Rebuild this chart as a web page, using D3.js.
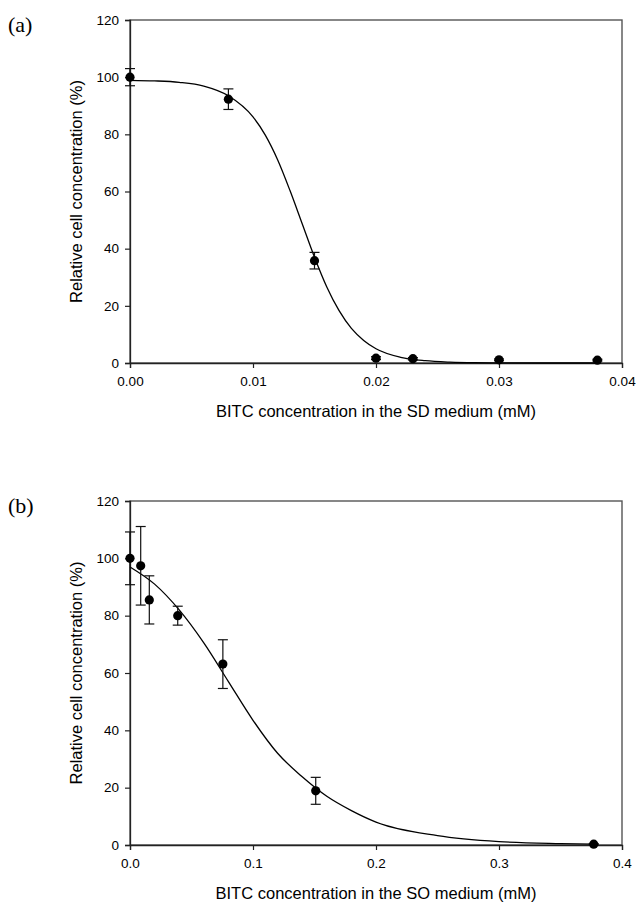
<!DOCTYPE html>
<html>
<head>
<meta charset="utf-8">
<script src="https://cdn.jsdelivr.net/npm/d3@7"></script>
<style>
  body { margin: 0; background: #fff; }
  svg { display: block; }
  .tick text { font-family: Arial, "Liberation Sans", sans-serif; font-size: 13.5px; fill: #000; }
</style>
</head>
<body>
<svg id="chart" width="636" height="902"></svg>
<script>
// panel (a): BITC in SD medium
const sdConc = [0, 0.008, 0.015, 0.020, 0.023, 0.030, 0.038];
const sdMean = [100, 92.3, 35.8, 1.7, 1.5, 1.1, 1.0];
const sdErr = [3.0, 3.6, 2.9, 0.5, 0.4, 0.3, 0.3];
const sdFitX = [0, 0.002, 0.004, 0.006, 0.008, 0.010, 0.011, 0.012, 0.013, 0.014, 0.015, 0.016, 0.017, 0.018, 0.019, 0.020, 0.022, 0.024, 0.026, 0.028, 0.030, 0.034, 0.038];
const sdFitY = [98.9, 98.7, 98.2, 96.9, 93.5, 86.1, 79.7, 71.1, 60.4, 48.7, 37.0, 26.6, 18.3, 12.1, 7.9, 5.0, 2.0, 0.8, 0.3, 0.1, 0.05, 0, 0];
const sdTicks = [0, 0.01, 0.02, 0.03, 0.04];

// panel (b): BITC in SO medium
const soConc = [0, 0.0087, 0.0157, 0.0388, 0.0755, 0.151, 0.377];
const soMean = [100, 97.4, 85.5, 80, 63.1, 18.9, 0.3];
const soErr = [9.2, 13.7, 8.4, 3.3, 8.5, 4.7, 0.2];
const soFitX = [0, 0.02, 0.04, 0.06, 0.08, 0.10, 0.12, 0.14, 0.16, 0.18, 0.20, 0.25, 0.30, 0.35, 0.377];
const soFitY = [97, 91, 82, 70.5, 57, 43.5, 32, 23.8, 17, 12, 8, 3.3, 1.2, 0.5, 0.3];
const soTicks = [0, 0.1, 0.2, 0.3, 0.4];

const yTicks = [0, 20, 40, 60, 80, 100, 120];

const svg = d3.select("#chart");

function drawPanel(p) {
  const x = d3.scaleLinear().domain([0, p.xMax]).range([130, 622]);
  const y = d3.scaleLinear().domain([0, 120]).range([p.bottom, p.top]);
  const g = svg.append("g");

  // frame
  g.append("rect")
    .attr("x", 130).attr("y", p.top)
    .attr("width", 492).attr("height", p.bottom - p.top)
    .attr("fill", "none").attr("stroke", "#555").attr("stroke-width", 1.4);

  const xAxis = g.append("g")
    .attr("transform", "translate(0," + p.bottom + ")")
    .call(d3.axisBottom(x).tickValues(p.ticks).tickFormat(d3.format(p.fmt)).tickSize(5).tickPadding(8));
  const yAxis = g.append("g")
    .attr("transform", "translate(130,0)")
    .call(d3.axisLeft(y).tickValues(yTicks).tickSize(5).tickPadding(6));
  [xAxis, yAxis].forEach(function (a) {
    a.select(".domain").attr("stroke", "#222").attr("stroke-width", 1.3);
    a.selectAll(".tick line").attr("stroke", "#222").attr("stroke-width", 1.2);
  });

  // fitted curve
  const line = d3.line()
    .x(function (d, i) { return x(p.fitX[i]); })
    .y(function (d) { return y(d); })
    .curve(d3.curveMonotoneX);
  g.append("path")
    .datum(p.fitY)
    .attr("d", line)
    .attr("fill", "none").attr("stroke", "#000").attr("stroke-width", 1.3);

  // error bars
  const pts = p.conc.map(function (c, i) {
    return { x: c, m: p.mean[i], e: p.err[i] };
  });
  const eb = g.selectAll(".err").data(pts).enter().append("g")
    .attr("stroke", "#111").attr("stroke-width", 1.2);
  eb.append("line")
    .attr("x1", function (d) { return x(d.x); }).attr("x2", function (d) { return x(d.x); })
    .attr("y1", function (d) { return y(d.m + d.e); }).attr("y2", function (d) { return y(d.m - d.e); });
  [1, -1].forEach(function (s) {
    eb.append("line")
      .attr("x1", function (d) { return x(d.x) - 5; }).attr("x2", function (d) { return x(d.x) + 5; })
      .attr("y1", function (d) { return y(d.m + s * d.e); }).attr("y2", function (d) { return y(d.m + s * d.e); });
  });

  g.selectAll(".pt").data(pts).enter().append("circle")
    .attr("cx", function (d) { return x(d.x); })
    .attr("cy", function (d) { return y(d.m); })
    .attr("r", 4.6)
    .attr("fill", "#000");

  // labels
  g.append("text")
    .attr("x", 376).attr("y", p.bottom + 54)
    .attr("text-anchor", "middle")
    .attr("font-family", "Arial, 'Liberation Sans', sans-serif")
    .attr("font-size", 16.5)
    .text(p.xTitle);
  g.append("text")
    .attr("transform", "translate(82," + (p.top + p.bottom) / 2 + ") rotate(-90)")
    .attr("text-anchor", "middle")
    .attr("font-family", "Arial, 'Liberation Sans', sans-serif")
    .attr("font-size", 16.5)
    .text("Relative cell concentration (%)");
  g.append("text")
    .attr("x", 8).attr("y", p.top + 12)
    .attr("font-family", "'Times New Roman', 'Liberation Serif', serif")
    .attr("font-size", 22)
    .text(p.tag);
}

drawPanel({
  top: 20, bottom: 363, xMax: 0.04, ticks: sdTicks, fmt: ".2f",
  conc: sdConc, mean: sdMean, err: sdErr, fitX: sdFitX, fitY: sdFitY,
  xTitle: "BITC concentration in the SD medium (mM)", tag: "(a)"
});
drawPanel({
  top: 501, bottom: 845, xMax: 0.4, ticks: soTicks, fmt: ".1f",
  conc: soConc, mean: soMean, err: soErr, fitX: soFitX, fitY: soFitY,
  xTitle: "BITC concentration in the SO medium (mM)", tag: "(b)"
});
</script>
</body>
</html>
